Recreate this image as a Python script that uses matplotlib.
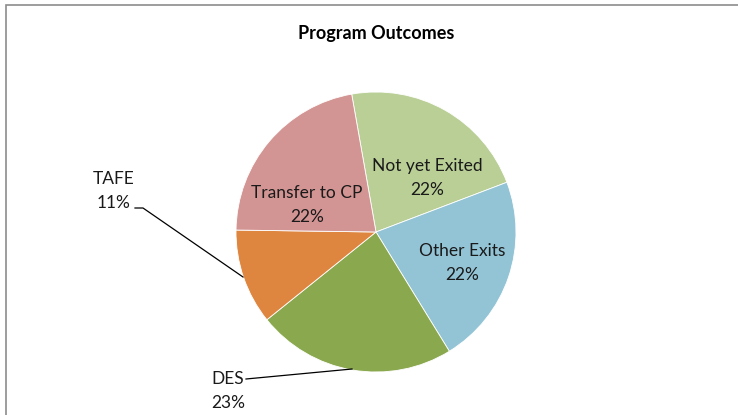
import matplotlib.pyplot as plt
from matplotlib.lines import Line2D

plt.rcParams['font.family'] = ['Lato', 'DejaVu Sans']

labels = ['Not yet Exited', 'Other Exits', 'DES', 'TAFE', 'Transfer to CP']
values = [22, 22, 23, 11, 22]
colors = ['#B9CF96', '#93C4D6', '#8AA84E', '#DE8640', '#D39593']

fig = plt.figure(figsize=(7.38, 4.15), dpi=100, facecolor='white')
ax = fig.add_axes([0, 0, 1, 1])

# outer chart frame (only top and left edges show, the rest is off the canvas)
fy = 1 - 5 / 415
fx = 6 / 738
fig.lines.append(Line2D([1.2, fx, fx], [fy, fy, -0.2], transform=fig.transFigure,
                        color='#8c8c8c', lw=1.2, solid_joinstyle='miter'))

cx, cy, r = 376, 415 - 232, 140
wedges, _ = ax.pie(values, colors=colors, startangle=100, counterclock=False,
                   center=(cx, cy), radius=r,
                   wedgeprops=dict(edgecolor='white', linewidth=0.6))
ax.set_xlim(0, 738)
ax.set_ylim(0, 415)
ax.set_aspect('equal')
ax.axis('off')

fs = 12.5
ls = 1.55
tc = '#1a1a1a'
ax.text(cx + 51, cy + 54, labels[0] + '\n' + str(values[0]) + '%', ha='center', va='center',
        fontsize=fs, linespacing=ls, color=tc)
ax.text(cx + 86, cy - 31, labels[1] + '\n' + str(values[1]) + '%', ha='center', va='center',
        fontsize=fs, linespacing=ls, color=tc)
ax.text(cx - 69, cy + 27, labels[4] + '\n' + str(values[4]) + '%', ha='center', va='center',
        fontsize=fs, linespacing=ls, color=tc)

# outside labels with leader lines
ax.text(114, 415 - 191, labels[3] + '\n' + str(values[3]) + '%', ha='center', va='center',
        fontsize=fs, linespacing=ls, color=tc)
ax.plot([135, 143, 243], [415 - 208, 415 - 208, 415 - 277], color='black', lw=0.9)
ax.text(228, 415 - 391, labels[2] + '\n' + str(values[2]) + '%', ha='center', va='center',
        fontsize=fs, linespacing=ls, color=tc)
ax.plot([246, 352], [415 - 379, 415 - 369], color='black', lw=0.9)

ax.text(376, 415 - 33, 'Program Outcomes', ha='center', va='center', fontsize=13,
        fontweight='bold', color='black')

fig.savefig('out.png', dpi=100, facecolor='white')
